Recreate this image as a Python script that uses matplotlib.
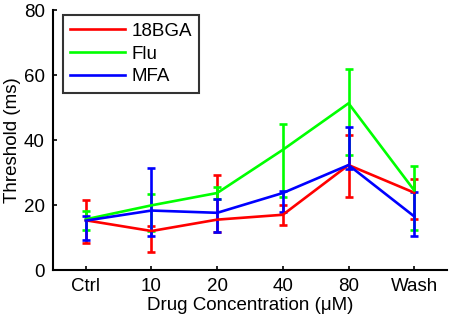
import numpy as np
import matplotlib
matplotlib.use("Agg")
import matplotlib.pyplot as plt

plt.rcParams['font.family'] = ['Liberation Sans', 'DejaVu Sans']

# ================================================================================================
# Data: mean, lower bound, upper bound
# ================================================================================================

conc_labels = ['Ctrl', '10', '20', '40', '80', 'Wash']

bga_mean = [15.3, 12.0, 15.5, 17.0, 32.3, 23.8]
bga_low = [8.3, 5.5, 11.8, 13.8, 22.4, 15.7]
bga_high = [21.4, 13.4, 29.3, 20.0, 41.6, 28.1]

flu_mean = [15.6, 19.9, 23.7, 37.0, 51.3, 24.5]
flu_low = [12.4, 12.0, 22.0, 22.4, 35.5, 12.4]
flu_high = [18.3, 23.5, 25.5, 45.0, 61.9, 31.9]

mfa_mean = [15.2, 18.3, 17.6, 23.7, 32.3, 16.5]
mfa_low = [9.3, 10.5, 11.8, 17.7, 31.0, 10.4]
mfa_high = [16.6, 31.4, 21.8, 24.2, 44.0, 23.9]

series = [
    ('18BGA', bga_mean, bga_low, bga_high, (1, 0, 0)),
    ('Flu', flu_mean, flu_low, flu_high, (0, 1, 0)),
    ('MFA', mfa_mean, mfa_low, mfa_high, (0, 0, 1)),
]

# ================================================================================================
# Plot
# ================================================================================================

fig = plt.figure(figsize=(4.54, 3.27), dpi=100)
ax = fig.add_axes([0.1167, 0.1743, 0.868, 0.795])

x = np.arange(1, len(conc_labels) + 1)

for name, mean, low, high, color in series:
    mean = np.array(mean)
    yerr = [mean - np.array(low), np.array(high) - mean]
    ax.errorbar(x, mean, yerr=yerr, color=color, label=name, linewidth=1.9,
                elinewidth=1.9, capsize=3, capthick=1.9)

ax.set_xlim(0.5, 6.5)
ax.set_ylim(0, 80)
ax.set_xticks(x)
ax.set_xticklabels(conc_labels)
ax.set_yticks([0, 20, 40, 60, 80])

ax.spines['top'].set_visible(False)
ax.spines['right'].set_visible(False)
ax.spines['left'].set_linewidth(1.5)
ax.spines['bottom'].set_linewidth(1.5)
ax.tick_params(direction='in', length=3, width=1.2, labelsize=13.5, pad=6)

ax.set_xlabel('Drug Concentration (\u03bcM)', fontsize=13.5, labelpad=1)
ax.set_ylabel('Threshold (ms)', fontsize=13.5, labelpad=2)

# legend handles as plain lines (no error bar marks)
handles = [plt.Line2D([], [], color=c, linewidth=1.9) for _, _, _, _, c in series]
leg = ax.legend(handles, [s[0] for s in series], loc='upper left', fontsize=13.5,
                frameon=True, fancybox=False, edgecolor='black',
                borderaxespad=0, handlelength=2.9, labelspacing=0.3,
                borderpad=0.4, handletextpad=0.35, bbox_to_anchor=(0.025, 0.98))
leg.get_frame().set_linewidth(1.5)

fig.savefig('out.png', dpi=100)
